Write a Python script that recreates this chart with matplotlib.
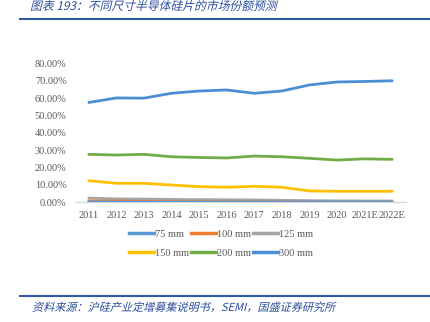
import matplotlib.pyplot as plt
from matplotlib.lines import Line2D
from matplotlib.ticker import FuncFormatter
from matplotlib.textpath import TextPath
from matplotlib.patches import PathPatch
from matplotlib.font_manager import FontProperties
from matplotlib.transforms import Affine2D

plt.rcParams['font.family'] = ['Liberation Serif', 'Noto Sans CJK SC', 'DejaVu Sans']

years = ['2011', '2012', '2013', '2014', '2015', '2016', '2017', '2018',
         '2019', '2020', '2021E', '2022E']
mm75 = [0.2, 0.1, 0.1, 0.1, 0.1, 0.1, 0.1, 0.1, 0.1, 0.1, 0.1, 0.1]
mm100 = [0.8, 0.6, 0.5, 0.4, 0.4, 0.3, 0.3, 0.2, 0.2, 0.1, 0.1, 0.1]
mm125 = [2.4, 1.9, 1.8, 1.6, 1.5, 1.4, 1.3, 1.1, 0.9, 0.8, 0.7, 0.7]
mm150 = [12.4, 10.9, 10.9, 9.9, 9.0, 8.6, 9.2, 8.6, 6.5, 6.3, 6.3, 6.3]
mm200 = [27.6, 27.2, 27.6, 26.2, 25.8, 25.5, 26.6, 26.2, 25.3, 24.3, 25.0, 24.7]
mm300 = [57.5, 60.1, 60.0, 62.8, 64.1, 64.7, 62.8, 64.1, 67.6, 69.3, 69.6, 70.0]

labels = ['75 mm', '100 mm', '125 mm', '150 mm', '200 mm', '300 mm']
series = [mm75, mm100, mm125, mm150, mm200, mm300]
colors = ['#5B9BD5', '#ED7D31', '#A5A5A5', '#FFC000', '#70AD47', '#4A8FD6']

title = '图表 193：不同尺寸半导体硅片的市场份额预测'
source = '资料来源：沪硅产业定增募集说明书，SEMI，国盛证券研究所'

fig = plt.figure(figsize=(4.31, 3.22), dpi=100)
ax = fig.add_axes([0.174, 0.372, 0.768, 0.431])

x = range(len(years))
# draw big ones last so small ones stay under like the original
order = [5, 4, 3, 2, 1, 0]
for i in order:
    ax.plot(x, series[i], color=colors[i], lw=2.0, solid_capstyle='round', zorder=3)

ax.set_xlim(-0.5, len(years) - 0.5)
ax.set_ylim(0, 80)
ax.set_yticks(range(0, 81, 10))
ax.yaxis.set_major_formatter(FuncFormatter(lambda v, p: '%.2f%%' % v))
ax.set_xticks(list(x))
ax.set_xticklabels(years)
ax.tick_params(length=0, labelsize=7.5, labelcolor='#595959', pad=6)
for s in ['top', 'right', 'left']:
    ax.spines[s].set_visible(False)
ax.spines['bottom'].set_color('#D9D9D9')
ax.spines['bottom'].set_linewidth(1.0)

# legend row by row
handles = [Line2D([], [], color=c, lw=2.5) for c in colors]
idx = [0, 3, 1, 4, 2, 5]
fig.legend([handles[i] for i in idx], [labels[i] for i in idx],
           ncol=3, loc='center', bbox_to_anchor=(0.513, 0.243), frameon=False,
           fontsize=7.5, labelcolor='#595959', handlelength=2.4,
           handletextpad=0.1, columnspacing=0.2, labelspacing=0.9)


# slanted CJK text (the CJK font has no italic face)
def slanted(s, x_px, y_px, size):
    fp = FontProperties(family=['Noto Sans CJK SC', 'DejaVu Sans'])
    tp = TextPath((0, 0), s, size=size, prop=fp)
    tr = (Affine2D().skew_deg(14, 0).scale(fig.dpi / 72.0)
          .translate(x_px, fig.bbox.height - y_px))
    fig.add_artist(PathPatch(tp, transform=tr, facecolor='#2B4C9B',
                             edgecolor='none'))


slanted(title, 30, 10, 8.5)
fig.add_artist(Line2D([0.047, 0.998], [0.94, 0.94], color='#2B5AA3', lw=1.5))
fig.add_artist(Line2D([0.047, 0.998], [0.08, 0.08], color='#2B5AA3', lw=1.5))
slanted(source, 32, 311, 8)

fig.savefig('out.png', dpi=100)
